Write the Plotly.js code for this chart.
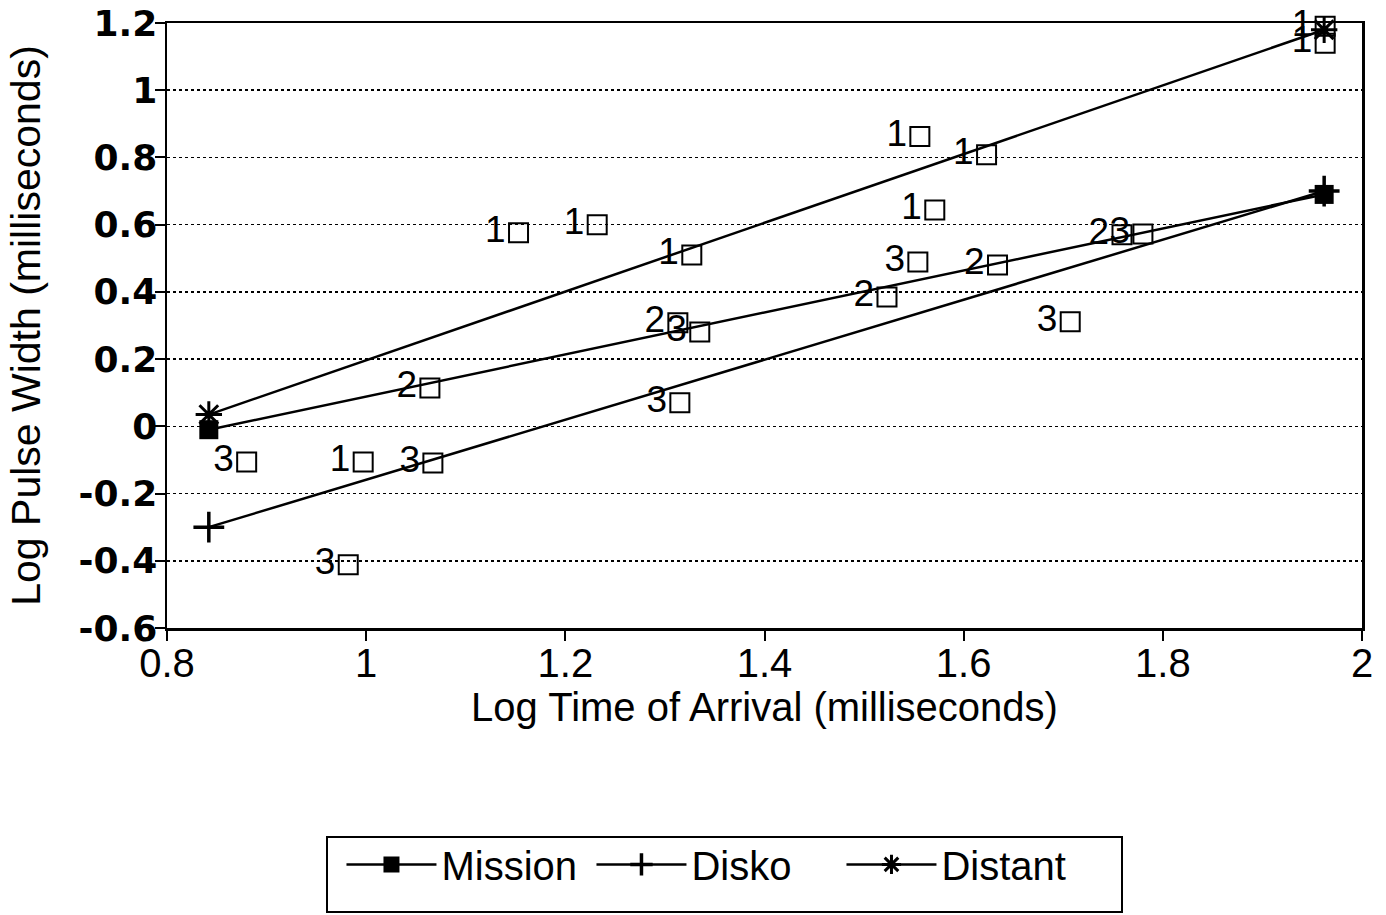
<!DOCTYPE html>
<html>
<head>
<meta charset="utf-8">
<script src="https://cdn.plot.ly/plotly-3.0.1.min.js"></script>
<style>html,body{margin:0;padding:0;background:#fff;}#chart{width:1386px;height:915px;}</style>
</head>
<body>
<div id="chart"></div>
<script>
// Fitted lines (endpoints)
const lineX = [0.842, 1.962];
const missionY = [-0.01, 0.69];
const diskoY = [-0.30, 0.70];
const distantY = [0.035, 1.18];

// Individual observations, labelled by group number
const group1X = [1.153, 1.232, 1.327, 1.556, 1.623, 1.571, 0.997, 1.963, 1.963];
const group1Y = [0.576, 0.600, 0.510, 0.862, 0.808, 0.644, -0.106, 1.19, 1.14];
const group2X = [1.064, 1.313, 1.523, 1.634, 1.759];
const group2Y = [0.114, 0.308, 0.385, 0.480, 0.570];
const group3X = [0.880, 1.067, 0.982, 1.335, 1.315, 1.554, 1.707, 1.780];
const group3Y = [-0.106, -0.109, -0.412, 0.281, 0.070, 0.489, 0.311, 0.572];
const groupNames = ["1", "2", "3"];

const xTickVals = [0.8, 1, 1.2, 1.4, 1.6, 1.8, 2];
const xTickText = ["0.8", "1", "1.2", "1.4", "1.6", "1.8", "2"];
const yTickVals = [-0.6, -0.4, -0.2, 0, 0.2, 0.4, 0.6, 0.8, 1, 1.2];
const yTickText = ["-0.6", "-0.4", "-0.2", "0", "0.2", "0.4", "0.6", "0.8", "1", "1.2"];

const labelFont = {family: "Liberation Sans, Arial, sans-serif", size: 37, color: "#000"};

function groupTrace(xs, ys, name) {
  return {
    x: xs, y: ys, type: "scatter", mode: "markers+text",
    text: xs.map(() => name), textposition: "middle left",
    textfont: labelFont,
    marker: {symbol: "square-open", size: 19, color: "#000", line: {width: 2, color: "#000"}},
    showlegend: false, hoverinfo: "skip", cliponaxis: false
  };
}

const traces = [
  groupTrace(group1X, group1Y, groupNames[0]),
  groupTrace(group2X, group2Y, groupNames[1]),
  groupTrace(group3X, group3Y, groupNames[2]),
  {x: lineX, y: missionY, name: "Mission", type: "scatter", mode: "lines+markers",
   line: {color: "#000", width: 2.5}, marker: {symbol: "square", size: 19, color: "#000"}, cliponaxis: false},
  {x: lineX, y: diskoY, name: "Disko", type: "scatter", mode: "lines+markers",
   line: {color: "#000", width: 2.5}, marker: {symbol: "cross-thin-open", size: 22, color: "#000", line: {width: 3.5, color: "#000"}}, cliponaxis: false},
  {x: lineX, y: distantY, name: "Distant", type: "scatter", mode: "lines+markers",
   line: {color: "#000", width: 2.5}, marker: {symbol: "asterisk-open", size: 22, color: "#000", line: {width: 3, color: "#000"}}, cliponaxis: false}
];

const layout = {
  width: 1386, height: 915,
  margin: {l: 167, r: 24, t: 23, b: 287},
  paper_bgcolor: "#fff", plot_bgcolor: "#fff",
  font: {family: "Liberation Sans, Arial, sans-serif", color: "#000"},
  xaxis: {
    range: [0.8, 2], tickmode: "array", tickvals: xTickVals, ticktext: xTickText,
    showgrid: false, zeroline: false, showline: true, mirror: true, linecolor: "#000", linewidth: 2.5,
    ticks: "outside", ticklen: 10, tickwidth: 2, tickcolor: "#000", ticklabelstandoff: -12,
    tickfont: {family: "Liberation Sans Narrow, Liberation Sans, Arial, sans-serif", size: 40, color: "#000"},
    title: {text: "Log Time of Arrival (milliseconds)", font: {family: "Liberation Sans, Arial, sans-serif", size: 40, color: "#000"}, standoff: 10},
    automargin: false
  },
  yaxis: {
    range: [-0.6, 1.2], tickmode: "array", tickvals: yTickVals, ticktext: yTickText,
    showgrid: true, gridcolor: "#000", gridwidth: 1.5, griddash: "dot",
    zeroline: false, showline: true, mirror: true, linecolor: "#000", linewidth: 2.5,
    ticks: "outside", ticklen: 10, tickwidth: 2, tickcolor: "#000", ticklabelstandoff: -10,
    tickfont: {family: "DejaVu Sans, sans-serif", size: 36, color: "#000", weight: "bold"},
    title: {text: "Log Pulse Width (milliseconds)", font: {family: "Liberation Sans, Arial, sans-serif", size: 41, color: "#000"}, standoff: 25},
    automargin: false
  },
  legend: {
    orientation: "h", x: 0.146, xanchor: "left", y: -0.337, yanchor: "top",
    font: {family: "Liberation Sans, Arial, sans-serif", size: 40, color: "#000"},
    bgcolor: "rgba(0,0,0,0)", borderwidth: 0,
    entrywidth: 145, entrywidthmode: "pixels", itemwidth: 90
  },
  shapes: [
    {type: "rect", xref: "paper", yref: "paper", x0: (327-167)/1195, x1: (1122-167)/1195,
     y0: (628-912)/605, y1: (628-837)/605, line: {color: "#000", width: 2}}
  ]
};

Plotly.newPlot("chart", traces, layout, {displayModeBar: false, staticPlot: true});
</script>
</body>
</html>
